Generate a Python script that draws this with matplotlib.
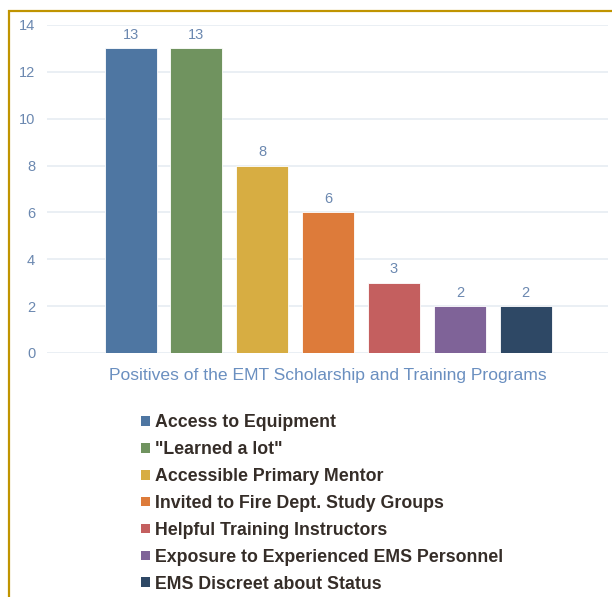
import matplotlib
matplotlib.use("Agg")
import matplotlib.pyplot as plt
from matplotlib.lines import Line2D
from matplotlib.patches import Patch

categories = ["Access to Equipment", '"Learned a lot"', "Accessible Primary Mentor",
              "Invited to Fire Dept. Study Groups", "Helpful Training Instructors",
              "Exposure to Experienced EMS Personnel", "EMS Discreet about Status"]
values = [13, 13, 8, 6, 3, 2, 2]
colors = ["#4e76a2", "#70935f", "#d7ad42", "#dd7b3a", "#c45f5f", "#7f6398", "#2e4865"]
yticks = [0, 2, 4, 6, 8, 10, 12, 14]
xlabel = "Positives of the EMT Scholarship and Training Programs"

plt.rcParams['font.family'] = ['Liberation Sans', 'DejaVu Sans']

W, H = 612, 597
fig = plt.figure(figsize=(W / 100, H / 100), dpi=100)
fig.patch.set_facecolor("white")

ax_left, ax_right = 47 / W, 608 / W
ax_bottom, ax_top = 1 - 353 / H, 1 - 25 / H
ax = fig.add_axes([ax_left, ax_bottom, ax_right - ax_left, ax_top - ax_bottom])

x = list(range(len(values)))
bars = ax.bar(x, values, width=0.79, color=colors, edgecolor="#ffffff", linewidth=0.6, zorder=3)
for xi, v in zip(x, values):
    ax.text(xi, v + 0.28, str(v), ha="center", va="bottom", fontsize=10.5, color="#6b88b0")

ax.set_xlim(-1.27, 7.25)
ax.set_ylim(0, 14)
ax.set_yticks(yticks)
ax.set_yticklabels([str(t) for t in yticks], fontsize=10.5, color="#6b88b0")
ax.tick_params(axis="y", length=0, pad=8.5)
ax.set_xticks([])
ax.grid(axis="y", color="#e6ecf2", linewidth=1.2, zorder=0)
for s in ax.spines.values():
    s.set_visible(False)
ax.set_xlabel(xlabel, fontsize=12.6, color="#6a8fc0", labelpad=11)

handles = [Patch(facecolor=c, edgecolor="none") for c in colors]
leg = fig.legend(handles, categories, loc="upper left",
                 bbox_to_anchor=(141 / W, 1 - 414 / H), frameon=False,
                 prop={"weight": "bold", "size": 12.8}, handlelength=0.48, handleheight=0.48,
                 handletextpad=0.3, labelspacing=0.56, borderaxespad=0, borderpad=0)
for t in leg.get_texts():
    t.set_color("#352d28")

# gold frame
gold = "#c09400"
fig.add_artist(Line2D([9 / W, 9 / W], [0, 1 - 9.5 / H], transform=fig.transFigure,
                      color=gold, linewidth=1.6, solid_capstyle="butt"))
fig.add_artist(Line2D([8 / W, 1], [1 - 10.5 / H, 1 - 10.5 / H], transform=fig.transFigure,
                      color=gold, linewidth=1.6, solid_capstyle="butt"))

fig.savefig("out.png", dpi=100, facecolor="white")
